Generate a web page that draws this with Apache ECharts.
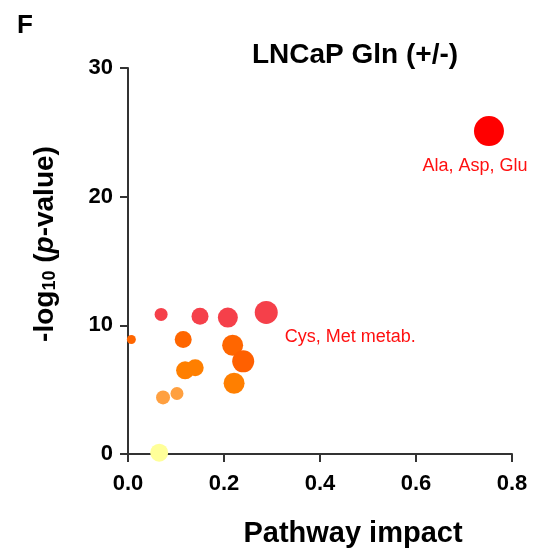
<!DOCTYPE html>
<html>
<head>
<meta charset="utf-8">
<script src="https://cdn.jsdelivr.net/npm/echarts@6/dist/echarts.min.js"></script>
<style>
  html, body { margin: 0; padding: 0; background: #fff; }
  #chartContainerID { width: 534px; height: 552px; }
</style>
</head>
<body>
<div id="chartContainerID"></div>
<script>
// pathway impact (x) and -log10(p) (y), one entry per pathway
let impact = [0.007, 0.069, 0.150, 0.208, 0.288, 0.115, 0.218, 0.240, 0.119, 0.140, 0.221, 0.073, 0.102, 0.065, 0.752];
let logP   = [8.9, 10.85, 10.7, 10.6, 11.0, 8.9, 8.45, 7.2, 6.5, 6.7, 5.5, 4.4, 4.7, 0.1, 25.1];
let dotSize = [9, 13, 17, 20, 23, 17, 21, 22, 18, 17, 21, 14, 13, 18, 30];
let dotColor = ['#FF6600', '#F5404A', '#F5404A', '#F5404A', '#F5404A', '#FF6600', '#FF6600', '#FF6000',
                '#FF7F00', '#FF7F00', '#FF7F00', '#FFA040', '#FFA040', '#FFFF99', '#FF0000'];
let pointNames = ['', '', '', '', 'Cys, Met metab.', '', '', '', '', '', '', '', '', '', 'Ala, Asp, Glu'];

let xTicks = [0, 0.2, 0.4, 0.6, 0.8];
let yTicks = [0, 10, 20, 30];

let chartContainerID = document.getElementById("chartContainerID");
var myChart = echarts.init(chartContainerID);

var seriesData = [];
for (var i = 0; i < impact.length; i++) {
  var item = {
    value: [impact[i], logP[i]],
    symbolSize: dotSize[i],
    itemStyle: { color: dotColor[i] }
  };
  if (pointNames[i] == 'Cys, Met metab.') {
    item.label = { show: true, formatter: pointNames[i], position: 'right', offset: [2, 25] };
  } else if (pointNames[i] == 'Ala, Asp, Glu') {
    item.label = { show: true, formatter: pointNames[i], position: 'bottom', offset: [-14, 6] };
  }
  seriesData.push(item);
}

var font = 'Liberation Sans, Arial';
var tickLabel = { fontFamily: font, fontWeight: 'bold', fontSize: 22, color: '#000' };
var axisLine = { show: true, onZero: false, lineStyle: { color: '#333', width: 2 } };

var option = {
  animation: false,
  title: [
    { text: 'F', left: 12, top: 8,
      textStyle: { fontFamily: font, fontWeight: 'bold', fontSize: 26, color: '#000' } },
    { text: 'LNCaP Gln (+/-)', left: 350, top: 36, textAlign: 'center',
      textStyle: { fontFamily: font, fontWeight: 'bold', fontSize: 28, color: '#000' } }
  ],
  grid: { left: 128, right: 22, top: 68, bottom: 98, containLabel: false, outerBoundsMode: 'none' },
  xAxis: {
    type: 'value', min: 0, max: 0.8, interval: 0.2,
    name: 'Pathway impact', nameLocation: 'middle', nameGap: 65,
    nameTextStyle: { fontFamily: font, fontWeight: 'bold', fontSize: 29, color: '#000', padding: [0, 0, 0, 66] },
    axisLine: axisLine,
    axisTick: { show: true, length: 8, lineStyle: { color: '#333', width: 2 } },
    axisLabel: Object.assign({ margin: 19, formatter: function (v) { return v.toFixed(1); } }, tickLabel),
    splitLine: { show: false }
  },
  yAxis: {
    type: 'value', min: 0, max: 30, interval: 10,
    name: '-log{sub|10} ({it|p}-value)', nameLocation: 'middle', nameGap: 69, nameRotate: 90,
    nameTextStyle: {
      fontFamily: font, fontWeight: 'bold', fontSize: 28, color: '#000',
      padding: [0, 0, 0, 34],
      rich: {
        sub: { fontFamily: font, fontWeight: 'bold', fontSize: 18, color: '#000', verticalAlign: 'bottom', padding: [10, 0, 0, 0] },
        it: { fontFamily: font, fontWeight: 'bold', fontStyle: 'italic', fontSize: 28, color: '#000' }
      }
    },
    axisLine: axisLine,
    axisTick: { show: true, length: 8, lineStyle: { color: '#333', width: 2 } },
    axisLabel: Object.assign({ margin: 15 }, tickLabel),
    splitLine: { show: false }
  },
  series: [{
    type: 'scatter',
    data: seriesData,
    label: { fontFamily: font, fontSize: 18, color: '#FF1010' },
    itemStyle: { opacity: 1 }
  }]
};

myChart.setOption(option);
</script>
</body>
</html>
